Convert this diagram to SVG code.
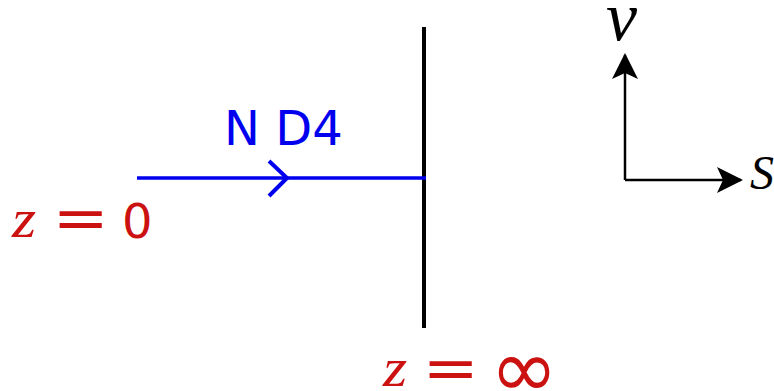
<svg xmlns="http://www.w3.org/2000/svg" width="774" height="391" viewBox="0 0 774 391">
<style>
.red{fill:#cc1111}
.zi{font-family:"Liberation Serif",serif;font-style:italic;font-size:54px}
.sans{font-family:"DejaVu Sans",sans-serif}
.eq{font-family:"DejaVu Sans",sans-serif;font-size:58px}
.ax{font-family:"Liberation Serif",serif;font-style:italic;fill:#000}
</style>
<defs>
<marker id="ah" viewBox="0 0 26 26" refX="24" refY="13" markerWidth="26" markerHeight="26" markerUnits="userSpaceOnUse" orient="auto">
<path d="M0,0 L26,13 L0,26 L6,13 Z" fill="#000"/>
</marker>
</defs>
<g id="connectors">
<line x1="424" y1="27" x2="424" y2="328" stroke="#000" stroke-width="4"/>
<line x1="137" y1="178" x2="426" y2="178" stroke="#0000ee" stroke-width="3.5"/>
<polyline points="269,161 287,178 269,196" fill="none" stroke="#0000ee" stroke-width="4"/>
<line x1="625" y1="180" x2="625" y2="55" stroke="#000" stroke-width="2.5" marker-end="url(#ah)"/>
<line x1="625" y1="180" x2="741" y2="180" stroke="#000" stroke-width="2.5" marker-end="url(#ah)"/>
</g>
<g id="label-nd4">
<text x="224" y="145" class="sans" font-size="48" fill="#0000ee">N D4</text>
</g>
<g id="label-z0">
<text transform="matrix(1.15,0,0,1,12,237)" class="zi red">z</text>
<text transform="matrix(1.16,0,0,1,52.6,238)" class="eq red">=</text>
<text x="122" y="238" class="sans red" font-size="48">0</text>
</g>
<g id="label-zinf">
<text transform="matrix(1.15,0,0,1,383,386)" class="zi red">z</text>
<text transform="matrix(1.16,0,0,1,422.6,388)" class="eq red">=</text>
<text x="490" y="397" class="sans red" font-size="82">∞</text>
</g>
<g id="axis-labels">
<text x="606" y="40" class="ax" font-size="70">v</text>
<text x="750" y="189" class="ax" font-size="48">S</text>
</g>
</svg>
